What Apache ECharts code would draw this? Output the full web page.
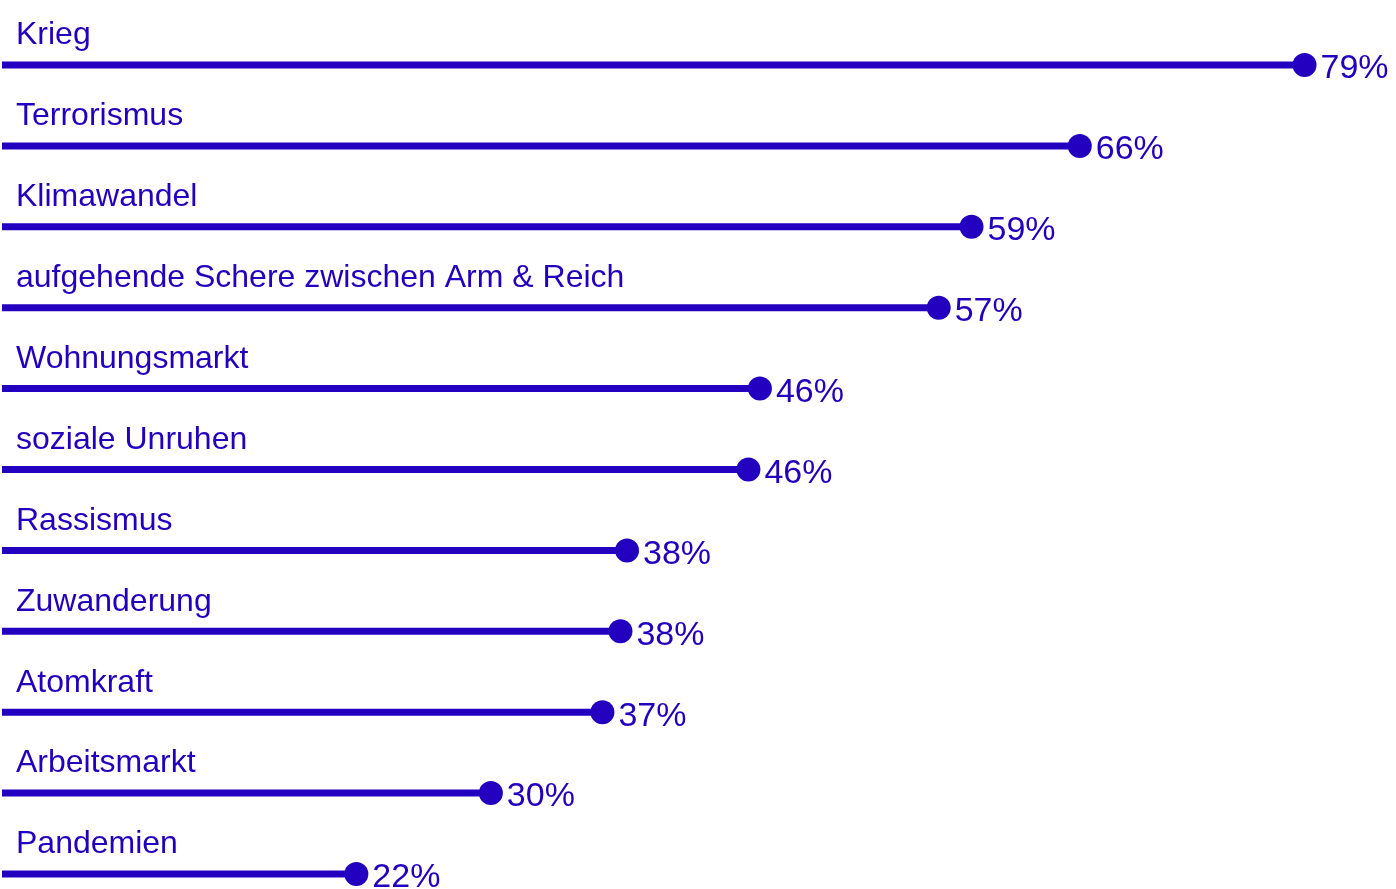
<!DOCTYPE html>
<html>
<head>
<meta charset="utf-8">
<title>Sorgen</title>
<script src="https://cdn.jsdelivr.net/npm/echarts@6/dist/echarts.min.js"></script>
<style>
  html, body { margin: 0; padding: 0; background: #fff; }
  #chart { width: 1396px; height: 889px; }
</style>
</head>
<body>
<div id="chart"></div>
<script>
// Kategorien, von oben nach unten
var categories = ['Krieg', 'Terrorismus', 'Klimawandel', 'aufgehende Schere zwischen Arm & Reich',
  'Wohnungsmarkt', 'soziale Unruhen', 'Rassismus', 'Zuwanderung', 'Atomkraft', 'Arbeitsmarkt', 'Pandemien'];
// Anteile in Prozent (aus dem Bild geschätzt)
var shares = [79.4, 65.7, 59.1, 57.1, 46.2, 45.5, 38.1, 37.7, 36.6, 29.8, 21.6];

var color = '#2300c0';
var font = 'Liberation Sans, Arial, sans-serif';

var chart = echarts.init(document.getElementById('chart'));
chart.setOption({
  animation: false,
  backgroundColor: '#fff',
  grid: { left: 2, right: 16, top: 65, bottom: 15 },
  xAxis: {
    type: 'value', min: 0, max: 84,
    show: false
  },
  yAxis: {
    type: 'category',
    data: categories,
    inverse: true,
    boundaryGap: false,
    show: false
  },
  series: [
    {
      // Stiel
      type: 'bar',
      data: shares,
      barWidth: 7,
      itemStyle: { color: color },
      label: {
        show: true,
        position: [14, -26],
        align: 'left',
        verticalAlign: 'middle',
        formatter: function(p) { return p.name; },
        color: color,
        fontFamily: font,
        fontSize: 32
      }
    },
    {
      // Punkt
      type: 'scatter',
      data: shares,
      symbol: 'circle',
      symbolSize: 24,
      itemStyle: { color: color, opacity: 1 },
      z: 3,
      label: {
        show: true,
        position: 'right',
        distance: 4,
        offset: [0, 4],
        formatter: function(p) { return Math.round(p.value) + '%'; },
        color: color,
        fontFamily: font,
        fontSize: 34
      }
    }
  ]
});
</script>
</body>
</html>
